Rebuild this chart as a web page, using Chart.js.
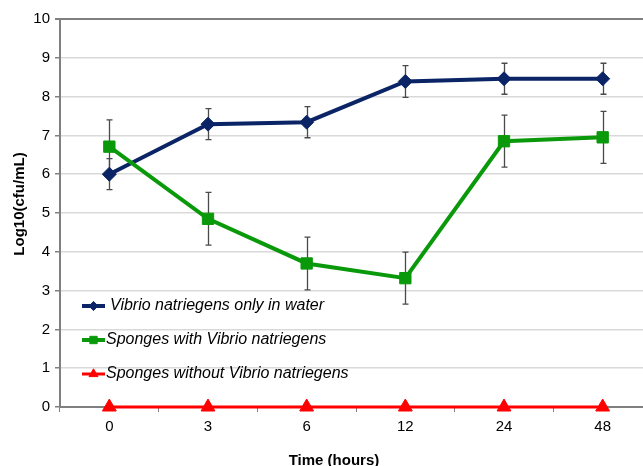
<!DOCTYPE html>
<html>
<head>
<meta charset="utf-8">
<script src="https://cdn.jsdelivr.net/npm/chart.js@4.4.1/dist/chart.umd.min.js"></script>
<style>
  html, body { margin: 0; padding: 0; background: #fff; overflow: hidden; }
  #wrap { width: 661px; height: 466px; }
</style>
</head>
<body>
<div id="wrap"><canvas id="vibrioChart" width="661" height="466"></canvas></div>
<script>
// sampling times (hours)
var timeLabels = ["0", "3", "6", "12", "24", "48"];

// log10 counts per series
var waterOnly = [6.0, 7.29, 7.34, 8.39, 8.46, 8.46];
var spongesWith = [6.71, 4.85, 3.70, 3.32, 6.85, 6.95];
var spongesWithout = [0, 0, 0, 0, 0, 0];

// standard deviation for the error bars
var waterOnlyErr = [0.4, 0.4, 0.4, 0.41, 0.4, 0.4];
var spongesWithErr = [0.69, 0.68, 0.68, 0.67, 0.67, 0.67];

var seriesNames = [
  "Vibrio natriegens only in water",
  "Sponges with Vibrio natriegens",
  "Sponges without Vibrio natriegens"
];

var ctx = document.getElementById("vibrioChart").getContext("2d");

// error bars drawn under the lines and markers
var errorBars = {
  id: "errorBars",
  beforeDatasetsDraw: function (chart) {
    var c = chart.ctx;
    var x = chart.scales.x, y = chart.scales.y;
    c.save();
    c.strokeStyle = "#4a4a4a";
    c.lineWidth = 1.3;
    chart.data.datasets.forEach(function (ds) {
      if (!ds.errors) return;
      ds.data.forEach(function (v, i) {
        var px = Math.round(x.getPixelForValue(i)) + 0.5;
        var top = y.getPixelForValue(v + ds.errors[i]);
        var bot = y.getPixelForValue(v - ds.errors[i]);
        c.beginPath();
        c.moveTo(px, top); c.lineTo(px, bot);
        c.moveTo(px - 3, top); c.lineTo(px + 3, top);
        c.moveTo(px - 3, bot); c.lineTo(px + 3, bot);
        c.stroke();
      });
    });
    c.restore();
  }
};

// legend inside the plot, plus the two axis titles
var extras = {
  id: "extras",
  afterDraw: function (chart) {
    var c = chart.ctx;
    var area = chart.chartArea;
    c.save();
    var rowY = [306, 340, 374];
    chart.data.datasets.forEach(function (ds, i) {
      var ly = rowY[i];
      c.strokeStyle = ds.borderColor;
      c.fillStyle = ds.backgroundColor;
      c.lineWidth = ds.borderWidth;
      c.beginPath();
      c.moveTo(area.left + 22, ly);
      c.lineTo(area.left + 45, ly);
      c.stroke();
      c.lineWidth = 1;
      Chart.helpers.drawPoint(c, {
        pointStyle: ds.pointStyle,
        radius: ds.pointRadius * 0.65,
        borderWidth: 1
      }, area.left + 33.5, ly);
      c.fillStyle = "#000";
      c.font = "italic 16px 'Liberation Sans', Arial, sans-serif";
      c.textBaseline = "middle";
      c.fillText(ds.label, area.left + (i === 0 ? 50 : 46), ly);
    });
    c.fillStyle = "#000";
    c.font = "bold 15px 'Liberation Sans', Arial, sans-serif";
    c.textAlign = "center";
    c.textBaseline = "middle";
    c.fillText("Time (hours)", 334, 461);
    c.translate(20, 204);
    c.rotate(-Math.PI / 2);
    c.fillText("Log10(cfu/mL)", 0, 0);
    c.restore();
  }
};

var config = {
  type: "line",
  data: {
    labels: timeLabels,
    datasets: [
      {
        label: seriesNames[0],
        data: waterOnly,
        errors: waterOnlyErr,
        borderColor: "#0a2466",
        backgroundColor: "#0a2466",
        borderWidth: 4,
        pointStyle: "rectRot",
        pointRadius: 7,
        pointHoverRadius: 7,
        pointBorderWidth: 1,
        order: 2
      },
      {
        label: seriesNames[1],
        data: spongesWith,
        errors: spongesWithErr,
        borderColor: "#0a990a",
        backgroundColor: "#0a990a",
        borderWidth: 4,
        pointStyle: "rect",
        pointRadius: 8,
        pointHoverRadius: 8,
        pointBorderWidth: 1,
        order: 1
      },
      {
        label: seriesNames[2],
        data: spongesWithout,
        borderColor: "#ff0000",
        backgroundColor: "#ff0000",
        borderWidth: 3,
        pointStyle: "triangle",
        pointRadius: 8,
        pointHoverRadius: 8,
        pointBorderWidth: 1,
        order: 0
      }
    ]
  },
  options: {
    responsive: false,
    animation: false,
    clip: false,
    layout: { padding: { top: 19, right: 4, left: 0, bottom: 0 } },
    plugins: {
      legend: { display: false },
      tooltip: { enabled: false }
    },
    scales: {
      x: {
        offset: true,
        grid: {
          offset: true,
          drawOnChartArea: false,
          tickLength: 5,
          tickColor: "#808080"
        },
        border: { color: "#808080", width: 2 },
        ticks: {
          color: "#000",
          padding: 6,
          font: { family: "'Liberation Sans', Arial, sans-serif", size: 15 }
        },
        afterFit: function (scale) { scale.height = 59; }
      },
      y: {
        min: 0,
        max: 10,
        ticks: {
          stepSize: 1,
          color: "#000",
          padding: 5,
          font: { family: "'Liberation Sans', Arial, sans-serif", size: 15 }
        },
        grid: {
          color: function (c) { return c.tick && c.tick.value === 10 ? "#808080" : "#d9d9d9"; },
          lineWidth: function (c) { return c.tick && c.tick.value === 10 ? 2 : 1.5; },
          tickLength: 5,
          tickColor: "#808080"
        },
        border: { color: "#808080", width: 2 },
        afterFit: function (scale) { scale.width = 60; }
      }
    }
  },
  plugins: [errorBars, extras]
};

var myChart = new Chart(ctx, config);
</script>
</body>
</html>
